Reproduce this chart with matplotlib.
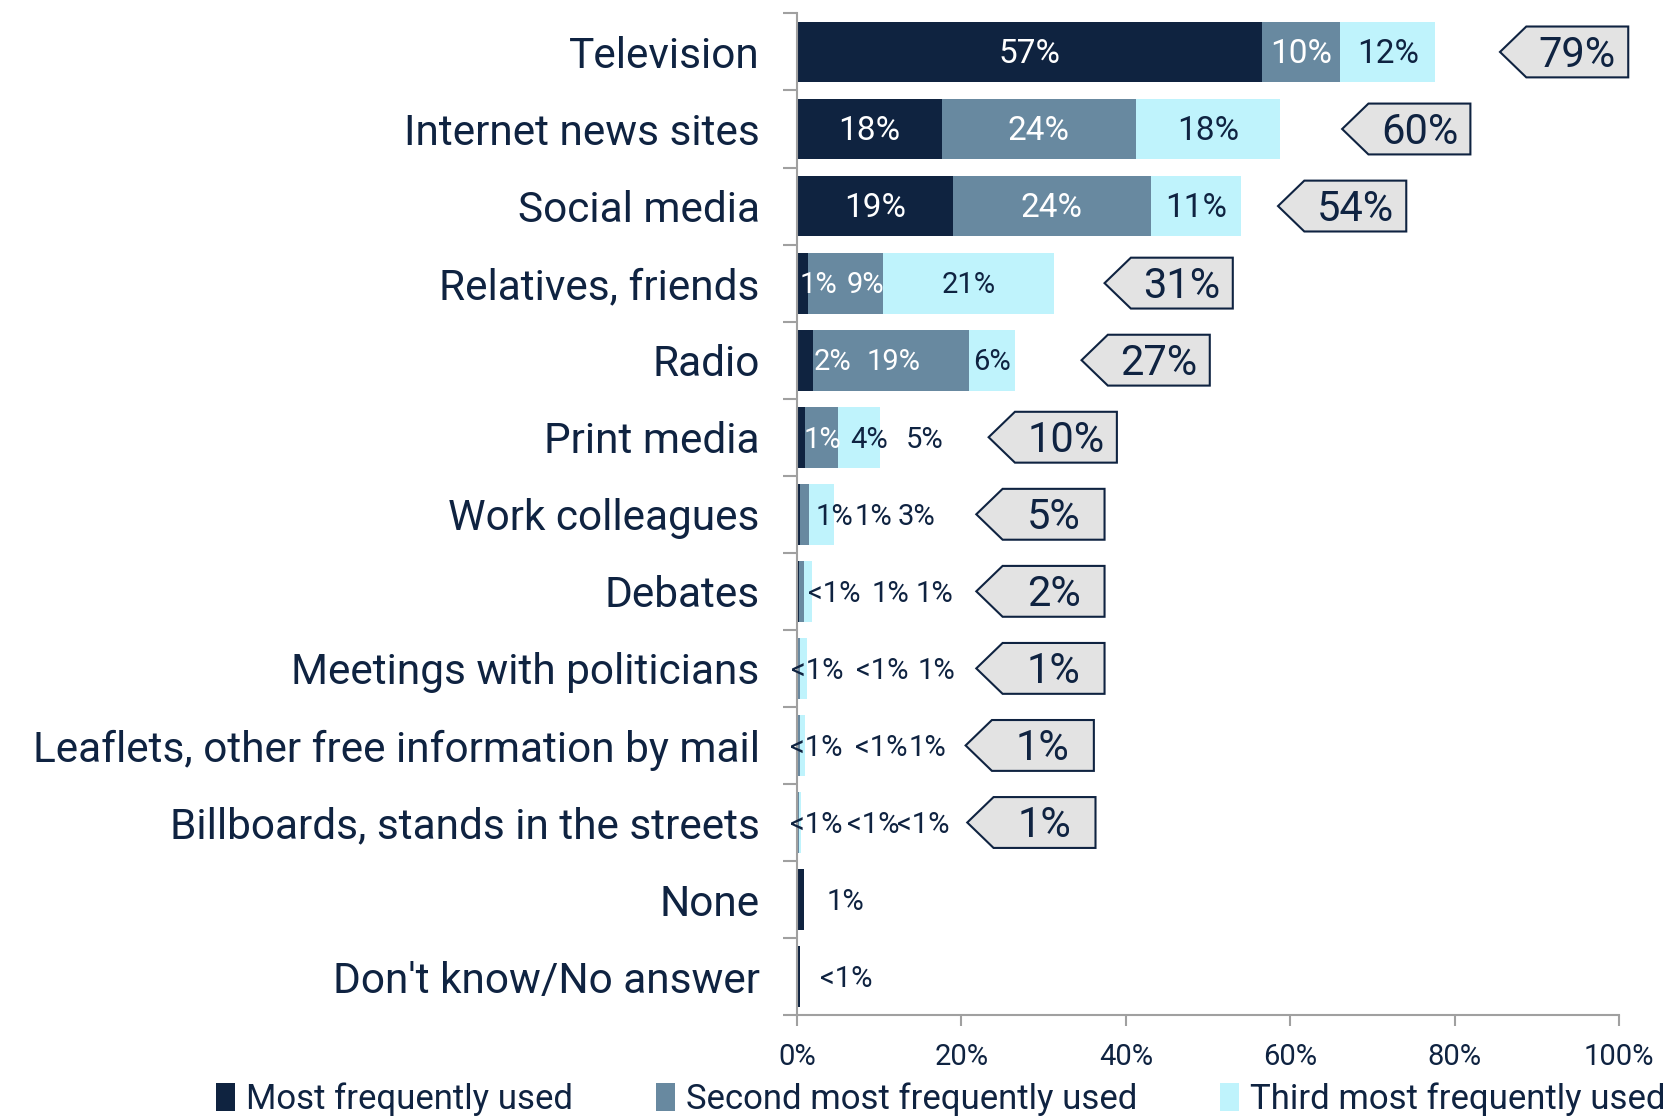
import matplotlib.pyplot as plt
from matplotlib.patches import Polygon

NAVY = "#0F2341"
C_MOST = "#0F2340"
C_SECOND = "#6889A0"
C_THIRD = "#BFF3FC"

plt.rcParams["font.family"] = ["Roboto", "DejaVu Sans"]

categories = [
    "Television", "Internet news sites", "Social media", "Relatives, friends",
    "Radio", "Print media", "Work colleagues", "Debates",
    "Meetings with politicians", "Leaflets, other free information by mail",
    "Billboards, stands in the streets", "None", "Don't know/No answer",
]
most = [56.5, 17.6, 19.0, 1.3, 1.9, 1.0, 0.4, 0.2, 0.1, 0.1, 0.1, 0.9, 0.3]
second = [9.6, 23.6, 24.0, 9.1, 19.0, 4.0, 1.1, 0.7, 0.3, 0.2, 0.1, 0.0, 0.0]
third = [11.5, 17.6, 11.0, 20.9, 5.6, 5.1, 3.0, 0.9, 0.8, 0.7, 0.3, 0.0, 0.0]

most_lbl = ["57%", "18%", "19%", "1%", "2%", "1%", "1%", "<1%", "<1%", "<1%", "<1%", "1%", "<1%"]
second_lbl = ["10%", "24%", "24%", "9%", "19%", "4%", "1%", "1%", "<1%", "<1%", "<1%", "", ""]
third_lbl = ["12%", "18%", "11%", "21%", "6%", "5%", "3%", "1%", "1%", "1%", "<1%", "", ""]

totals = ["79%", "60%", "54%", "31%", "27%", "10%", "5%", "2%", "1%", "1%", "1%"]

# label anchor x for the small rows (None -> centred in the segment)
label_x = [
    None, None, None,
    (2.6, 8.3, 20.9), (4.3, 11.7, 23.7), (3.1, 8.7, 15.5),
    (4.5, 9.3, 14.5), (4.5, 11.3, 16.7), (2.5, 10.4, 17.0),
    (2.3, 10.2, 15.8), (2.3, 9.3, 15.3), (5.9,), (6.0,),
]
# left tip of the total callouts
tip_x = [85.5, 66.3, 58.5, 37.4, 34.6, 23.3, 21.8, 21.8, 21.8, 20.5, 20.7]

fig = plt.figure(figsize=(16.71, 11.18), dpi=100)
ax = fig.add_axes([0.477, 0.092, 0.492, 0.896])

y = list(range(len(categories)))
h = 0.79
ax.barh(y, most, height=h, color=C_MOST, label="Most frequently used")
ax.barh(y, second, left=most, height=h, color=C_SECOND, label="Second most frequently used")
left3 = [a + b for a, b in zip(most, second)]
ax.barh(y, third, left=left3, height=h, color=C_THIRD, label="Third most frequently used")

for i in y:
    lbls = [most_lbl[i], second_lbl[i], third_lbl[i]]
    segs = [(0, most[i]), (most[i], left3[i]), (left3[i], left3[i] + third[i])]
    for k, txt in enumerate(lbls):
        if not txt:
            continue
        if label_x[i] is None:
            x = (segs[k][0] + segs[k][1]) / 2
            col = "white" if k < 2 else NAVY
            fs = 24
        else:
            x = label_x[i][k]
            col = "white" if x < left3[i] else NAVY
            fs = 21
        ax.text(x, i + 0.03, txt, ha="center", va="center", fontsize=fs, color=col)

# total callouts
bh = 0.66
d = 3.2
w = 15.6
for i, t in enumerate(totals):
    x0 = tip_x[i]
    pts = [(x0, i), (x0 + d, i - bh / 2), (x0 + w, i - bh / 2),
           (x0 + w, i + bh / 2), (x0 + d, i + bh / 2)]
    ax.add_patch(Polygon(pts, closed=True, facecolor="#E3E3E3", edgecolor=NAVY,
                         linewidth=1.5, clip_on=False, zorder=3))
    ax.text(x0 + d + (w - d) / 2, i + 0.04, t, ha="center", va="center",
            fontsize=30, color=NAVY, zorder=4)

ax.set_xlim(0, 100)
ax.set_ylim(len(categories) - 0.5, -0.5)
ax.set_xticks([0, 20, 40, 60, 80, 100])
ax.set_xticklabels(["0%", "20%", "40%", "60%", "80%", "100%"])
ax.set_yticks(y)
ax.set_yticklabels(categories)
ax.set_yticks([i - 0.5 for i in range(len(categories) + 1)], minor=True)
ax.tick_params(axis="y", which="major", length=0, pad=27, labelsize=30.5, labelcolor=NAVY)
ax.tick_params(axis="y", which="minor", length=10, color="#A0A0A0", width=1.5)
ax.tick_params(axis="x", length=8, color="#A0A0A0", width=1.5, labelsize=21,
               labelcolor=NAVY, pad=12)
for s in ["top", "right"]:
    ax.spines[s].set_visible(False)
for s in ["left", "bottom"]:
    ax.spines[s].set_color("#A0A0A0")
    ax.spines[s].set_linewidth(1.5)

fig.legend(loc="lower center", bbox_to_anchor=(0.563, -0.026), ncol=3, frameon=False,
           fontsize=25, handlelength=0.55, handleheight=0.85, handletextpad=0.3,
           columnspacing=2.4, labelcolor=NAVY)

fig.savefig("out.png", dpi=100)
plt.close(fig)
